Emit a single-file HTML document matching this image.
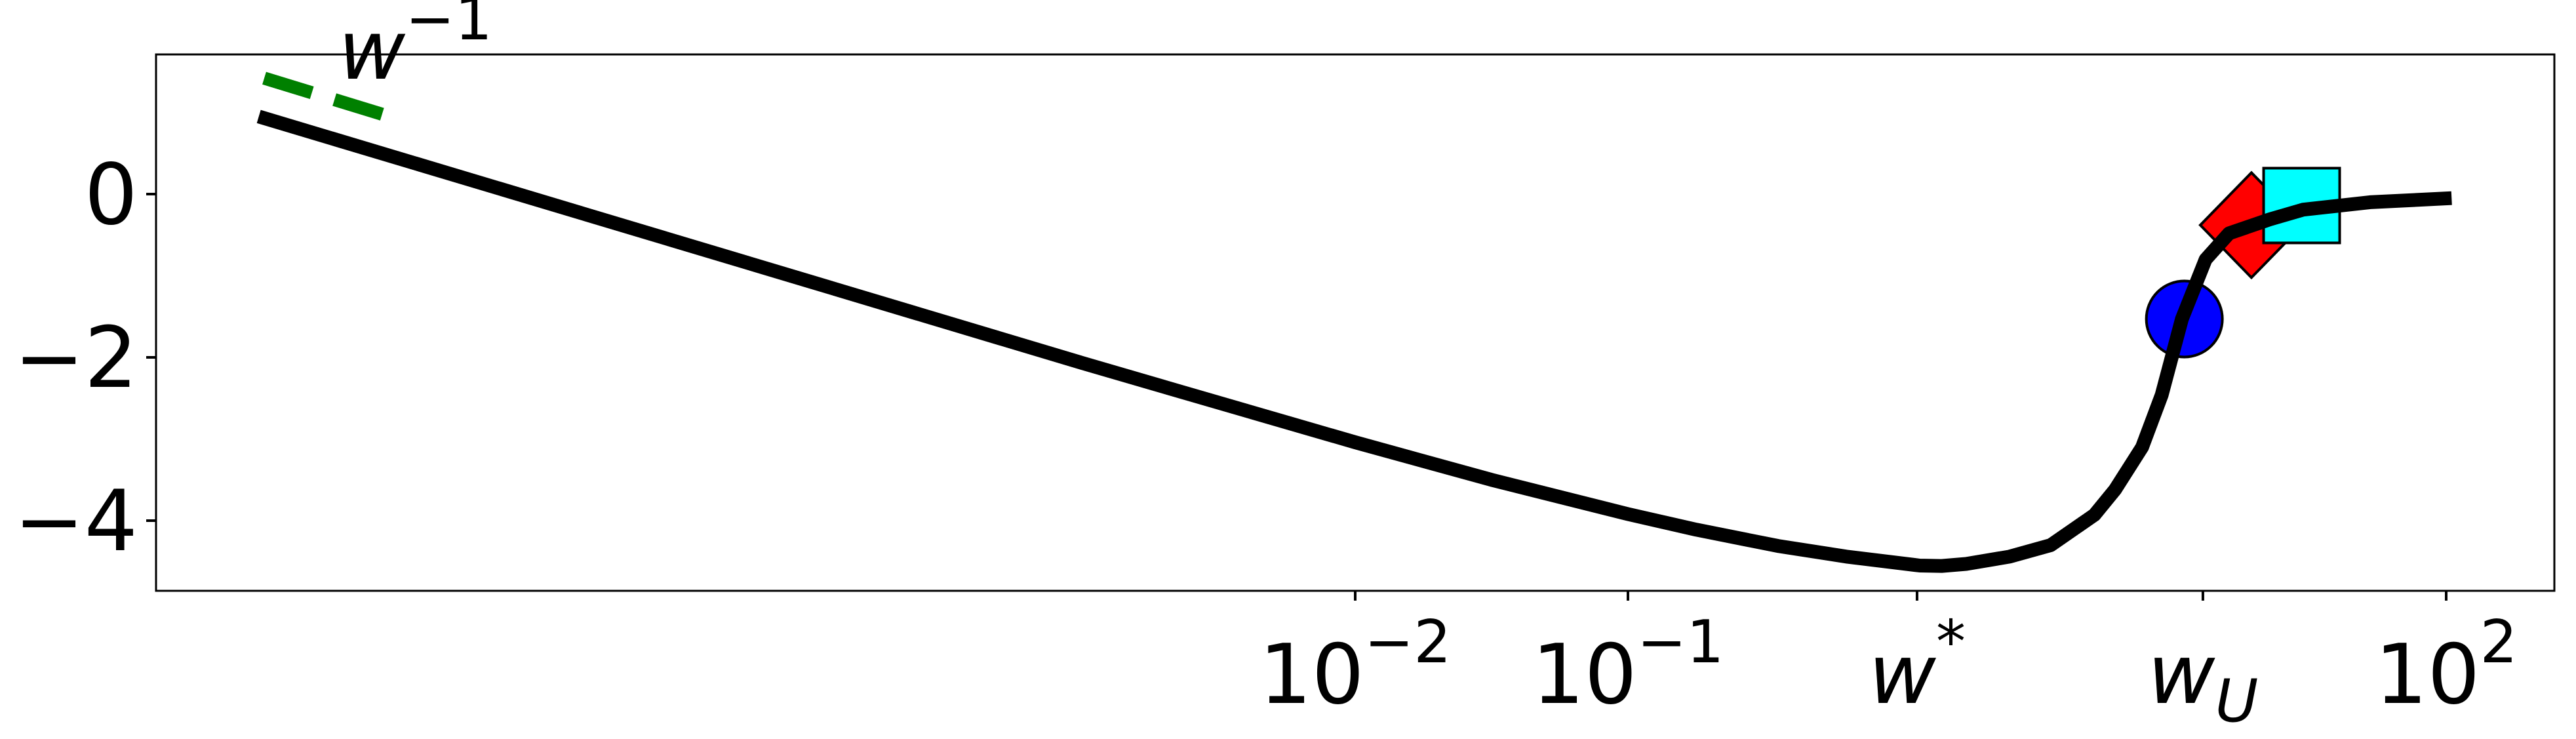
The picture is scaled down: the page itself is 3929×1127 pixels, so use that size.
<!DOCTYPE html>
<html><head><meta charset="utf-8"><style>
html,body{margin:0;padding:0;background:#fff;}
svg{display:block;font-family:"DejaVu Sans","Liberation Sans",sans-serif;}
</style></head><body>
<svg id="chart" width="3929" height="1127" viewBox="0 0 3929 1127" xmlns="http://www.w3.org/2000/svg">
<rect x="0" y="0" width="3929" height="1127" fill="#fff"/>
<g id="plot"></g>
<rect x="238" y="83" width="3658" height="818" fill="none" stroke="#000" stroke-width="3"/>
<g id="axes"></g>
</svg>
<script>
// data (log10 x, y)
const curveLogX = [-6.02, -5, -4, -3, -2.64, -2, -1.5, -1, -0.75, -0.45, -0.2, 0.07, 0.15, 0.24, 0.4, 0.55, 0.71, 0.786, 0.885, 0.957, 1.031, 1.118, 1.204, 1.353, 1.476, 1.721, 2.02];
const curveY    = [0.95, -0.07, -1.07, -2.07, -2.42, -3.04, -3.50, -3.92, -4.11, -4.31, -4.44, -4.55, -4.555, -4.53, -4.44, -4.30, -3.93, -3.62, -3.10, -2.46, -1.53, -0.80, -0.48, -0.31, -0.19, -0.10, -0.05];
const markerNames = ['circle-marker', 'diamond-marker', 'square-marker'];
const markerLogX = [1.04, 1.286, 1.47];
const markerY = [-1.53, -0.38, -0.14];
const markerColors = ['#0000ff', '#ff0000', '#00ffff'];
const xTickLogs = [-2, -1, 0.06, 1.108, 2];
const xTickBase = ['10', '10', 'w', 'w', '10'];
const xTickSup = ['−2', '−1', '*', '', '2'];
const xTickSub = ['', '', '', 'U', ''];
const yTicks = [0, -2, -4];
const yTickLabels = ['0', '−2', '−4'];
const guideLogX = [-6.0, -5.56];
const guideY = [1.42, 0.97];

const NS = 'http://www.w3.org/2000/svg';
const X = l => 2483 + (l + 1) * 416;
const Y = v => 296 - v * 124.5;
const plot = document.getElementById('plot');
const axes = document.getElementById('axes');
function mk(tag, attrs, parent) {
  const e = document.createElementNS(NS, tag);
  for (const k in attrs) e.setAttribute(k, attrs[k]);
  parent.appendChild(e);
  return e;
}
// guide dashed line
const g = mk('line', {x1: X(guideLogX[0]), y1: Y(guideY[0]), x2: X(guideLogX[1]), y2: Y(guideY[1]), stroke: '#008000', 'stroke-width': 20, 'stroke-dasharray': '76 36'}, plot);


const gl = mk('text', {x: 516, y: 120, 'font-size': 125, 'font-style': 'italic'}, plot);


gl.innerHTML = 'w<tspan dy="-60" font-size="90" font-style="normal">−1</tspan>';
// markers (drawn beneath the curve)
markerLogX.forEach((l, i) => {
  const cx = X(l), cy = Y(markerY[i]);
  let m;
  if (i === 0) m = mk('circle', {cx, cy, r: 58}, plot);
  else if (i === 1) m = mk('polygon', {points: `${cx},${cy-80} ${cx+78},${cy} ${cx},${cy+80} ${cx-78},${cy}`}, plot);
  else m = mk('rect', {x: cx - 58, y: cy - 57, width: 116, height: 114}, plot);
  m.setAttribute('fill', markerColors[i]);
  m.setAttribute('stroke', '#000');
  m.setAttribute('stroke-width', 4);
  
  
});
// curve
const pts = curveLogX.map((l, i) => X(l).toFixed(1) + ',' + Y(curveY[i]).toFixed(1)).join(' ');
const c = mk('polyline', {points: pts, fill: 'none', stroke: '#000', 'stroke-width': 21, 'stroke-linejoin': 'round'}, plot);


// x ticks
xTickLogs.forEach((l, i) => {
  const x = X(l);
  const t = mk('line', {x1: x, y1: 901, x2: x, y2: 916, stroke: '#000', 'stroke-width': 4}, axes);
  
  
  const isW = xTickBase[i] === 'w';
  const tx = mk('text', {x: x, y: 1072, 'font-size': 126, 'text-anchor': 'middle'}, axes);
  
  
  let html = isW ? '<tspan font-style="italic">w</tspan>' : xTickBase[i];
  if (xTickSup[i]) html += '<tspan dy="-62" font-size="90">' + xTickSup[i] + '</tspan>';
  if (xTickSub[i]) html += '<tspan dy="28" font-size="90" font-style="italic">' + xTickSub[i] + '</tspan>';
  tx.innerHTML = html;
});
// y ticks
yTicks.forEach((v, i) => {
  const y = Y(v);
  const t = mk('line', {x1: 223, y1: y, x2: 238, y2: y, stroke: '#000', 'stroke-width': 4}, axes);
  
  
  const tx = mk('text', {x: 210, y: y + 45, 'font-size': 128, 'text-anchor': 'end'}, axes);
  
  
  tx.textContent = yTickLabels[i];
});
</script>
</body></html>
